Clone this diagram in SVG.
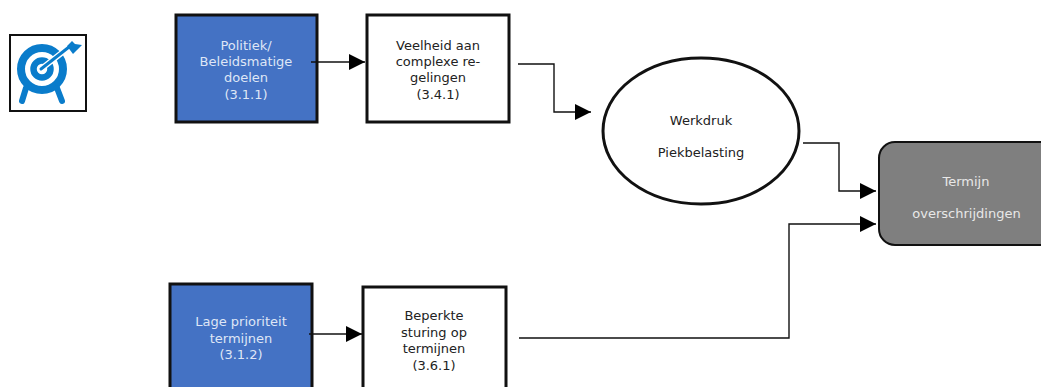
<svg xmlns="http://www.w3.org/2000/svg" width="1041" height="387" viewBox="0 0 1041 387">
<style>
text{font-family:"DejaVu Sans",Verdana,sans-serif;font-size:13px;text-anchor:middle;fill:#222}
.lt{fill:#dfe6f6}
.gr{fill:#e8e8e8}
.blue{fill:#4472c4;stroke:#111;stroke-width:3}
.white{fill:#fff;stroke:#111;stroke-width:3}
.conn{fill:none;stroke:#111;stroke-width:1.4}
.ic{fill:none;stroke:#0a7ccb;stroke-linecap:round}
</style>
<defs>
<marker id="ah" markerUnits="userSpaceOnUse" markerWidth="16" markerHeight="17" refX="16" refY="8" orient="auto"><path d="M0 0L16 8L0 16Z" fill="#000"/></marker>
</defs>
<g id="icon">
<rect x="10" y="35" width="76" height="76" fill="#fff" stroke="#111" stroke-width="2"/>
<circle class="ic" cx="42" cy="69" r="21" stroke-width="8"/>
<circle class="ic" cx="42" cy="69" r="8.5" stroke-width="6.5"/>
<path class="ic" d="M26 88L22 101M57 88L62 101" stroke-width="6"/>
<path d="M41 69L68 48" fill="none" stroke="#fff" stroke-width="6"/>
<path class="ic" d="M41 69L69 47" stroke-width="3"/>
<path d="M67 46L72 41L75 44L82 45L77 50L73 54Z" fill="#0a7ccb"/>
</g>
<g id="n311">
<rect class="blue" x="176" y="15" width="141" height="107"/>
<text class="lt" x="246" y="50">Politiek/</text>
<text class="lt" x="246" y="66">Beleidsmatige</text>
<text class="lt" x="246" y="82">doelen</text>
<text class="lt" x="246" y="99">(3.1.1)</text>
</g>
<g id="n341">
<rect class="white" x="367" y="15" width="142" height="107"/>
<text x="438" y="50">Veelheid aan</text>
<text x="438" y="66">complexe re-</text>
<text x="438" y="82">gelingen</text>
<text x="438" y="99">(3.4.1)</text>
</g>
<g id="n312">
<rect class="blue" x="170" y="284" width="142" height="110"/>
<text class="lt" x="241" y="326">Lage prioriteit</text>
<text class="lt" x="241" y="343">termijnen</text>
<text class="lt" x="241" y="359">(3.1.2)</text>
</g>
<g id="n361">
<rect class="white" x="363" y="287" width="143" height="110"/>
<text x="434" y="320">Beperkte</text>
<text x="434" y="337">sturing op</text>
<text x="434" y="353">termijnen</text>
<text x="434" y="370">(3.6.1)</text>
</g>
<g id="werkdruk">
<ellipse class="white" cx="701" cy="131" rx="98" ry="73"/>
<text x="701" y="125">Werkdruk</text>
<text x="701" y="157">Piekbelasting</text>
</g>
<g id="termijn">
<rect x="879" y="142" width="180" height="103" rx="16" fill="#7f7f7f" stroke="#111" stroke-width="2"/>
<text class="gr" x="966" y="186">Termijn</text>
<text class="gr" x="966.500" y="218">overschrijdingen</text>
</g>
<g id="connectors">
<path class="conn" marker-end="url(#ah)" d="M311 62H365"/>
<path class="conn" marker-end="url(#ah)" d="M518 64H554V112H591"/>
<path class="conn" marker-end="url(#ah)" d="M803 143H839V191H876"/>
<path class="conn" marker-end="url(#ah)" d="M519 338H789V224H876"/>
<path class="conn" marker-end="url(#ah)" d="M309 334H362"/>
</g>
</svg>
